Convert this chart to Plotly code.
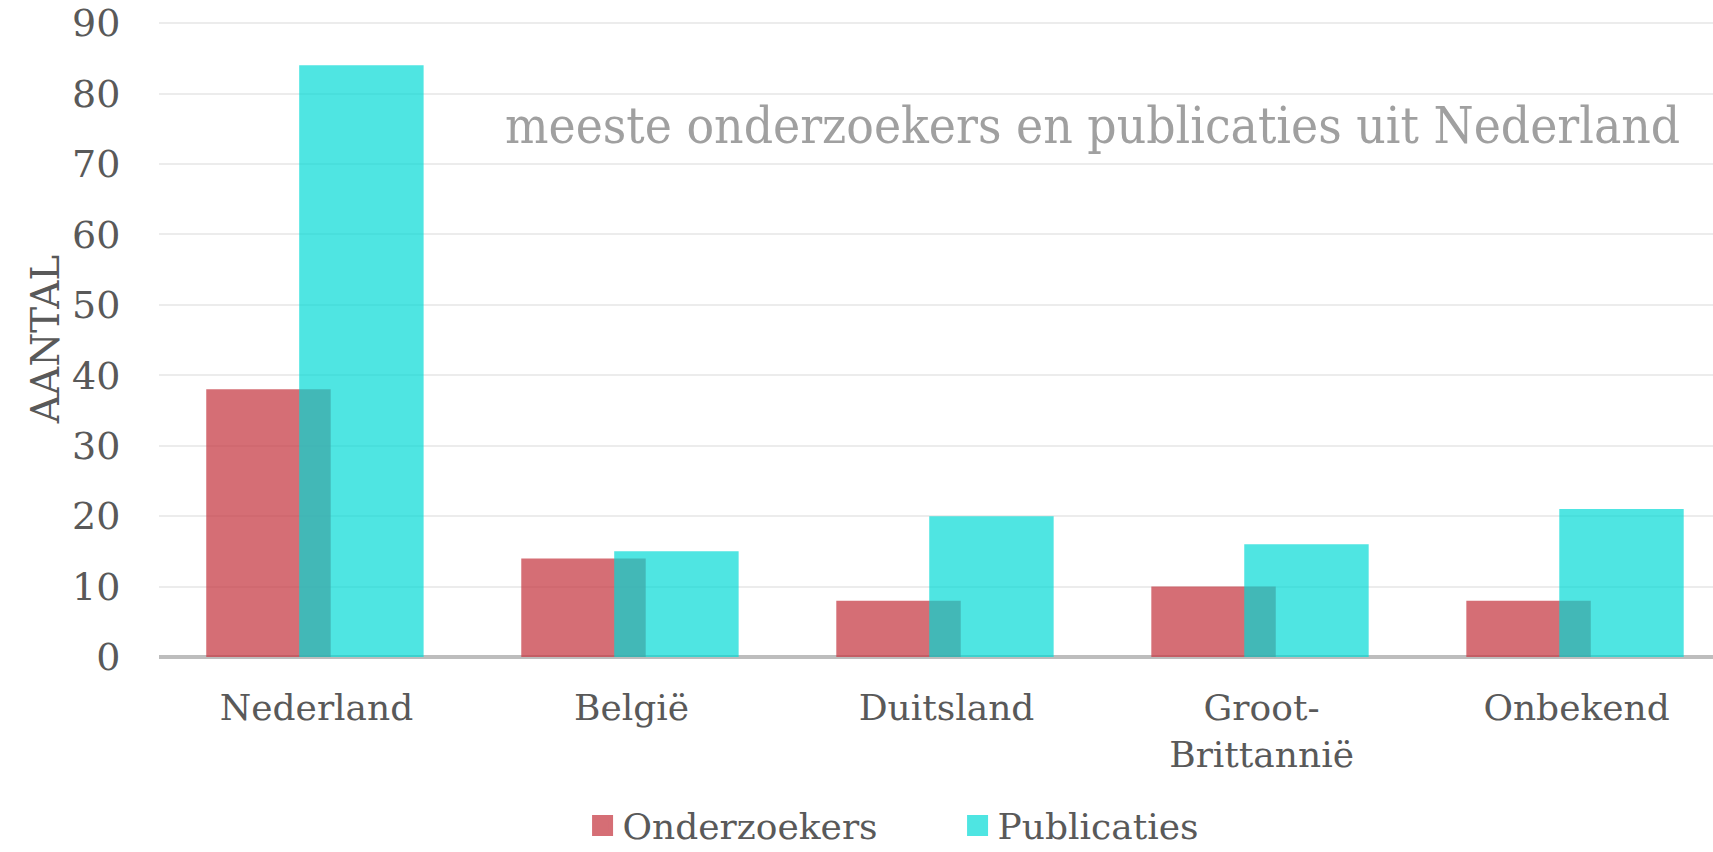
import plotly.graph_objects as go

categories = ["Nederland", "België", "Duitsland", "Groot-<br>Brittannië", "Onbekend"]
onderzoekers = [38, 14, 8, 10, 8]
publicaties = [84, 15, 20, 16, 21]
y_ticks = [0, 10, 20, 30, 40, 50, 60, 70, 80, 90]

FONT = "Georgia, 'DejaVu Serif', serif"
RED = "rgba(199,61,71,0.75)"
CYAN = "rgba(0,217,213,0.69)"

fig = go.Figure()
fig.add_trace(go.Bar(
    x=categories, y=onderzoekers, name="Onderzoekers",
    marker=dict(color=RED, line=dict(width=0)),
    width=0.395, offset=-0.35, showlegend=False,
))
fig.add_trace(go.Bar(
    x=categories, y=publicaties, name="Publicaties",
    marker=dict(color=CYAN, line=dict(width=0)),
    width=0.395, offset=-0.055, showlegend=False,
))
# legend entries (larger square symbols)
for name, col in [("Onderzoekers", "rgb(213,110,117)"), ("Publicaties", "rgb(78,229,226)")]:
    fig.add_trace(go.Scatter(
        x=[None], y=[None], mode="markers", name=name,
        marker=dict(symbol="square", size=16, color=col, line=dict(color=col, width=5)),
    ))

fig.update_layout(
    width=1713, height=852,
    barmode="overlay",
    plot_bgcolor="white", paper_bgcolor="white",
    margin=dict(l=159, r=0, t=21, b=195, autoexpand=False),
    font=dict(family=FONT, color="#595959", size=36),
    xaxis=dict(
        range=[-0.5, 4.433], automargin=False,
        showgrid=False, showline=False, zeroline=False,
        ticks="outside", ticklen=19, tickcolor="rgba(0,0,0,0)",
        tickfont=dict(size=36, color="#595959"),
    ),
    yaxis=dict(
        range=[0, 90.3], tickvals=y_ticks, automargin=False,
        showgrid=True, gridcolor="#ececec", gridwidth=2,
        zeroline=True, zerolinecolor="#bdbdbd", zerolinewidth=4,
        showline=False,
        ticks="outside", ticklen=30, tickcolor="rgba(0,0,0,0)",
        ticklabeloverflow="allow",
        tickfont=dict(size=38, color="#595959"),
        title=dict(text="AANTAL", font=dict(size=39, color="#595959"), standoff=0),
    ),
    legend=dict(
        orientation="h", xref="container", yref="paper",
        x=0.559, y=-0.265, xanchor="center", yanchor="middle",
        font=dict(size=36, color="#595959"),
        itemwidth=30, tracegroupgap=0, entrywidth=330,
    ),
    annotations=[dict(
        text="meeste onderzoekers en publicaties uit Nederland",
        xref="paper", yref="paper", x=0.601, y=0.836,
        xanchor="center", yanchor="middle", showarrow=False,
        font=dict(family="'DejaVu Serif Condensed', 'DejaVu Serif', serif", size=51, color="#a0a0a0"),
    )],
    showlegend=True,
)

fig.write_html("out.html")
